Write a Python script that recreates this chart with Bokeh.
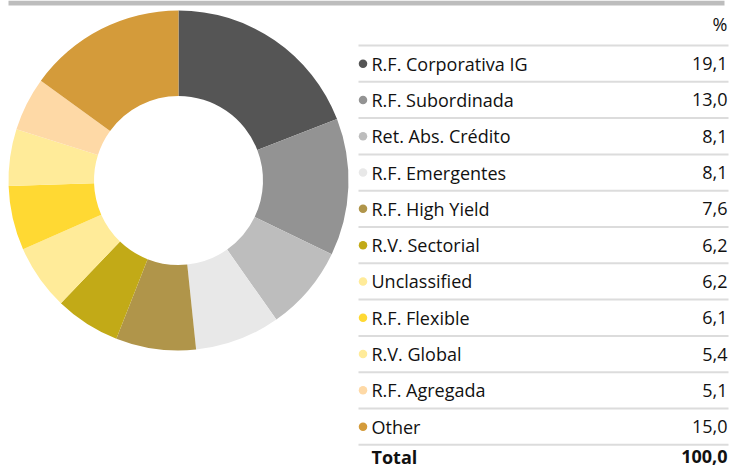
import numpy as np
from bokeh.plotting import figure
from bokeh.models import ColumnDataSource, Range1d
from bokeh.core.properties import value
from bokeh.embed import file_html
from bokeh.resources import INLINE

# ---- data ----
categories = ["R.F. Corporativa IG", "R.F. Subordinada", "Ret. Abs. Crédito",
              "R.F. Emergentes", "R.F. High Yield", "R.V. Sectorial",
              "Unclassified", "R.F. Flexible", "R.V. Global",
              "R.F. Agregada", "Other"]
values = [19.1, 13.0, 8.1, 8.1, 7.6, 6.2, 6.2, 6.1, 5.4, 5.1, 15.0]
colors = ["#555555", "#939393", "#bdbdbd", "#e8e8e8", "#b0954a", "#c2aa17",
          "#ffeb99", "#ffd933", "#ffeb99", "#fed9a6", "#d49b3a"]
header_label = "%"
total_label = "Total"
total_value = "100,0"

W, H = 731, 468
FONT = "Open Sans"
FS = "18px"

p = figure(width=W, height=H, output_backend="svg", toolbar_location=None,
           x_range=Range1d(0, W), y_range=Range1d(-H, 0),
           min_border=0, outline_line_color=None)
p.axis.visible = False
p.grid.visible = False
p.background_fill_color = "white"
p.border_fill_color = "white"

# top grey band
p.quad(left=[8], right=[724], bottom=[-5], top=[0],
       fill_color="#bdbdbd", line_color=None)

# ---- donut ----
vals = np.array(values, dtype=float)
frac = vals / vals.sum()
cum = np.concatenate([[0], np.cumsum(frac)])
start = np.pi / 2 - cum[:-1] * 2 * np.pi
end = np.pi / 2 - cum[1:] * 2 * np.pi
donut = ColumnDataSource(dict(start=start, end=end, color=colors))
p.annular_wedge(x=178, y=-180, inner_radius=84.5, outer_radius=170,
                start_angle="start", end_angle="end", direction="clock",
                fill_color="color", line_color=None, source=donut)

# ---- table ----
pitch = 36.3
line0 = 45.0
n = len(categories)
row_y = [-(line0 + pitch / 2 + pitch * i) for i in range(n)]
line_y = [-(line0 + pitch * i) for i in range(n + 1)]
labels = [f"{v:.1f}".replace(".", ",") for v in values]

rows = ColumnDataSource(dict(y=row_y, cat=categories, val=labels, color=colors))

p.segment(x0=358, x1=728, y0=line_y, y1=line_y, line_color="#dcdcdc", line_width=2)

p.scatter(x=362.5, y="y", size=8.5, fill_color="color", line_color=None, source=rows)
p.text(x=371, y="y", text="cat", text_font=value(FONT), text_font_size=FS,
       text_color="#111111", text_baseline="middle", text_align="left", source=rows)
p.text(x=727, y="y", text="val", text_font=value(FONT), text_font_size=FS,
       text_color="#111111", text_baseline="middle", text_align="right", source=rows)

# header
p.text(x=[727], y=[-23], text=[header_label], text_font=value(FONT),
       text_font_size=FS, text_color="#111111", text_baseline="middle",
       text_align="right")

# total
ty = -(line0 + pitch * n + 12)
p.text(x=[371], y=[ty], text=[total_label], text_font=value(FONT),
       text_font_size=FS, text_font_style="bold", text_color="#111111",
       text_baseline="middle", text_align="left")
p.text(x=[727], y=[ty], text=[total_value], text_font=value(FONT),
       text_font_size=FS, text_font_style="bold", text_color="#111111",
       text_baseline="middle", text_align="right")

open("out.html", "w").write(file_html(p, INLINE))
